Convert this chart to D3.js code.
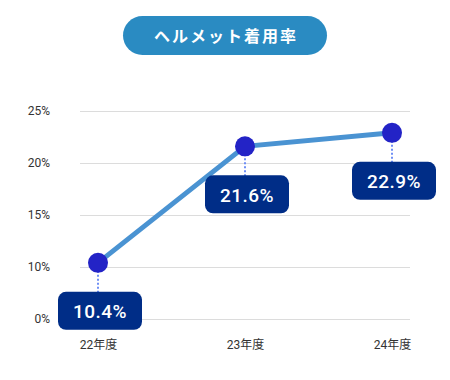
<!DOCTYPE html>
<html>
<head>
<meta charset="utf-8">
<script src="https://cdn.jsdelivr.net/npm/d3@7"></script>
<style>
  body { margin: 0; background: #fff; }
  svg { display: block; font-family: Roboto, "Noto Sans CJK JP", sans-serif; }
</style>
</head>
<body>
<svg id="chart" width="450" height="380"></svg>
<script>
var title = "ヘルメット着用率";
var years = ["22年度", "23年度", "24年度"];
var rates = [10.4, 21.6, 22.9];
var tickValues = [0, 10, 15, 20, 25];

var svg = d3.select('#chart');

// title pill
svg.append('rect')
  .attr('x', 123).attr('y', 16)
  .attr('width', 204).attr('height', 39)
  .attr('rx', 19.5)
  .style('fill', '#2a8bc2');
svg.append('text')
  .attr('x', 226).attr('y', 36)
  .attr('dy', '0.35em')
  .style('text-anchor', 'middle')
  .style('fill', '#fff')
  .style('font-size', '16px')
  .style('font-weight', 700)
  .style('letter-spacing', '2px')
  .style('font-family', '"Noto Sans CJK JP", sans-serif')
  .text(title);

// scales (axis is broken between 0 and 10)
var xScale = d3.scalePoint()
  .domain(years)
  .range([98, 392]);
var yScale = d3.scaleLinear()
  .domain([0, 10, 25])
  .range([319, 267, 111]);

// gridlines + y labels
var yAxis = d3.axisLeft(yScale)
  .tickValues(tickValues)
  .tickSize(-330)
  .tickPadding(30)
  .tickFormat(d => d + '%');
svg.append('g')
  .attr('transform', 'translate(80,0)')
  .call(yAxis)
  .call(g => g.select('.domain').remove())
  .call(g => g.selectAll('.tick line').style('stroke', '#dcdcdc'))
  .call(g => g.selectAll('.tick text')
    .style('font-size', '12px')
    .style('fill', '#333')
    .style('font-family', 'Roboto, sans-serif'));

// x labels
var xAxis = d3.axisBottom(xScale).tickSize(0).tickPadding(0);
svg.append('g')
  .attr('transform', 'translate(0,345)')
  .call(xAxis)
  .call(g => g.select('.domain').remove())
  .call(g => g.selectAll('.tick text')
    .attr('dy', '0.35em')
    .style('font-size', '12px')
    .style('fill', '#333')
    .style('font-family', 'Roboto, "Noto Sans CJK JP", sans-serif'));

var pts = years.map((y, i) => ({ year: y, rate: rates[i] }));

// dotted connectors
svg.selectAll('.conn')
  .data(pts)
  .enter().append('line')
  .attr('x1', d => xScale(d.year))
  .attr('x2', d => xScale(d.year))
  .attr('y1', d => yScale(d.rate))
  .attr('y2', d => yScale(d.rate) + 30)
  .style('stroke', '#6f8ff5')
  .style('stroke-width', 2)
  .style('stroke-dasharray', '2,2');

// line
var valueline = d3.line()
  .x(d => xScale(d.year))
  .y(d => yScale(d.rate));
svg.append('path')
  .datum(pts)
  .attr('d', valueline)
  .style('fill', 'none')
  .style('stroke', '#4a93d2')
  .style('stroke-width', 5);

// points
svg.selectAll('.pt')
  .data(pts)
  .enter().append('circle')
  .attr('cx', d => xScale(d.year))
  .attr('cy', d => yScale(d.rate))
  .attr('r', 10)
  .style('fill', '#2323c6');

// value boxes
var box = svg.selectAll('.lbl')
  .data(pts)
  .enter().append('g')
  .attr('transform', d => `translate(${xScale(d.year) + 2},${yScale(d.rate) + 29})`);
box.append('rect')
  .attr('x', -42).attr('y', 0)
  .attr('width', 84).attr('height', 38)
  .attr('rx', 8)
  .style('fill', '#002d87');
box.append('text')
  .attr('x', 0).attr('y', 20)
  .attr('dy', '0.35em')
  .style('text-anchor', 'middle')
  .style('fill', '#fff')
  .style('font-size', '19px')
  .style('font-weight', 500)
  .style('letter-spacing', '0.5px')
  .style('font-family', 'Roboto, sans-serif')
  .text(d => d.rate.toFixed(1) + '%');
</script>
</body>
</html>
